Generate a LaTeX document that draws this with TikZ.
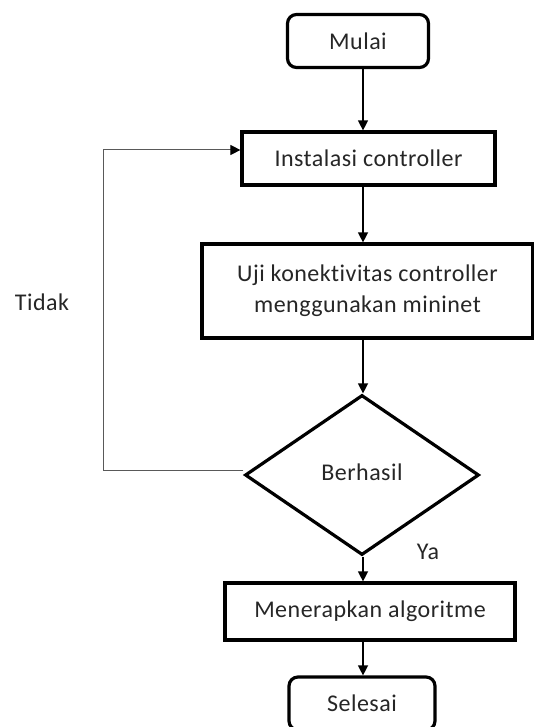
\documentclass[tikz,border=0pt]{standalone}
\usepackage{fontspec}
\setmainfont{Carlito}[Ligatures=NoCommon,LetterSpace=2]
\usetikzlibrary{shapes.geometric,arrows.meta}
\begin{document}
\begin{tikzpicture}[x=1pt,y=-1pt,
  every node/.style={font=\fontsize{24}{31}\selectfont, text=black!85},
  procbox/.style={draw, line width=3.2pt, inner sep=0pt, align=center},
  termbox/.style={procbox, rounded corners=9pt},
  decbox/.style={draw, line width=3.2pt, diamond, inner sep=0pt, minimum width=234pt, minimum height=160pt},
  flow/.style={line width=1.3pt, -{Triangle[width=10pt,length=10pt]}},
  loopline/.style={line width=1pt, draw=black!65, -{Triangle[width=10pt,length=10pt,fill=black,color=black]}},
  lbl/.style={inner sep=0pt}
]
\useasboundingbox (0,0) rectangle (534,727);
\coordinate (ax) at (363,0);
\node[termbox, minimum width=141pt, minimum height=53pt] (mulai) at (358,41) {Mulai};
\node[procbox, minimum width=253pt, minimum height=53pt] (inst) at (368.5,158.5) {Instalasi controller};
\node[procbox, minimum width=331pt, minimum height=94pt] (uji) at (367.5,291) {Uji konektivitas controller\\menggunakan mininet};
\node[decbox] (dia) at (362,475) {\raisebox{6pt}{Berhasil}};
\node[procbox, minimum width=290pt, minimum height=57pt] (menerap) at (370,611.5) {Menerapkan algoritme};
\node[termbox, minimum width=146pt, minimum height=53pt] (selesai) at (362,703.5) {Selesai};
\node[lbl] (ya) at (428,552) {Ya};
\node[lbl] (tidak) at (42,302) {Tidak};
\coordinate (lb) at (103,470);
\coordinate (lt) at (103,150);
\draw[flow] (mulai.south -| ax) -- (inst.north -| ax);
\draw[flow] (inst.south -| ax) -- (uji.north -| ax);
\draw[flow] (uji.south -| ax) -- (dia.north -| ax);
\draw[flow] (dia.south -| ax) -- (menerap.north -| ax);
\draw[flow] (menerap.south -| ax) -- (selesai.north -| ax);
\draw[loopline] (dia.west |- lb) -- (lb) -- (lt) -- (lt -| inst.west);
\end{tikzpicture}
\end{document}
